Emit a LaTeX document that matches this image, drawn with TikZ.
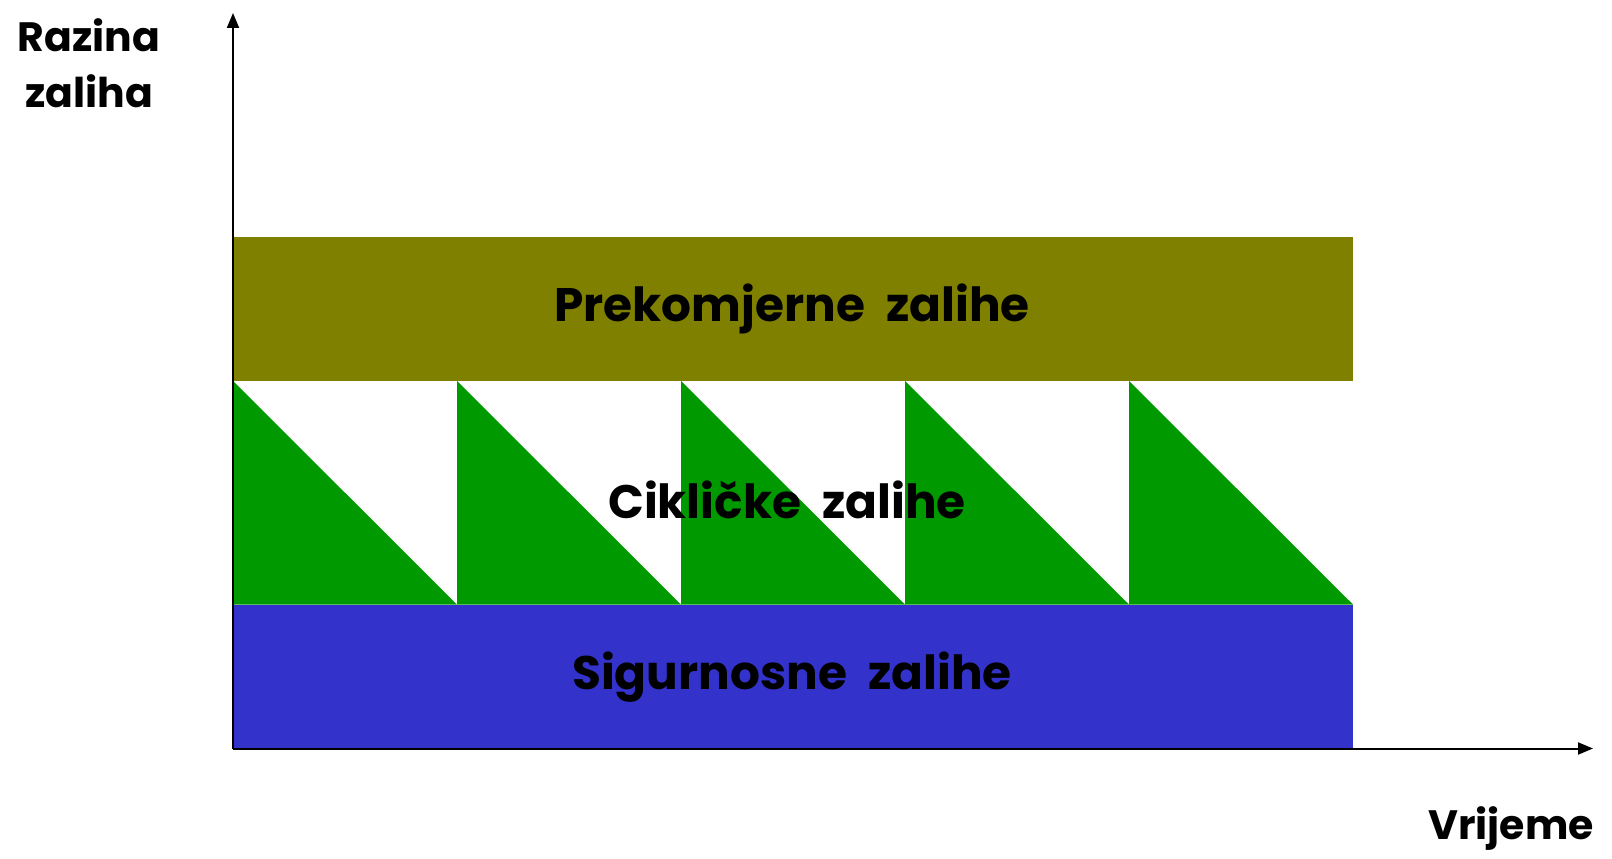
\documentclass[tikz,border=0pt]{standalone}
\usepackage{fontspec}
\setmainfont{Poppins}
\usetikzlibrary{arrows.meta}
\definecolor{excess}{HTML}{808000}
\definecolor{cycle}{HTML}{009900}
\definecolor{safety}{HTML}{3333CC}
\newcommand{\wgap}{\hspace{0.45em}}
\tikzset{
  axis/.style={line width=2pt,-{Triangle[length=15pt,width=12pt]}},
  bandlabel/.style={font=\fontsize{47}{50}\selectfont\bfseries,text=black,inner sep=0pt},
  axislabel/.style={font=\fontsize{41}{56}\selectfont\bfseries,text=black,inner sep=0pt,align=center},
}
\begin{document}
\begin{tikzpicture}[x=1pt,y=-1pt]
  \useasboundingbox (0,0) rectangle (1612,859);
  % key points of the chart
  \coordinate (O) at (233,748.5);
  \coordinate (ytip) at (233,13);
  \coordinate (xtip) at (1593,748.5);
  % stock bands
  \fill[excess] (233,237) rectangle (1353,381);
  \fill[safety] (233,604.5) rectangle (1353,748.5);
  % cycle stock sawtooth
  \foreach \i in {0,...,4}{
    \pgfmathsetmacro{\xa}{233+224*\i}
    \pgfmathsetmacro{\xb}{\xa+224}
    \fill[cycle] (\xa,381) -- (\xb,604.5) -- (\xa,604.5) -- cycle;
  }
  \node[bandlabel] (excessL) at (792,309) {Prekomjerne\wgap zalihe};
  \node[bandlabel] (cycleL) at (787,500) {Cikličke\wgap zalihe};
  \node[bandlabel] (safetyL) at (792,677) {Sigurnosne\wgap zalihe};
  % axes
  \draw[axis] (O) -- (ytip);
  \draw[axis] (O) -- (xtip);
  \node[axislabel] (ylab) at (89,63) {Razina\\zaliha};
  \node[axislabel] (xlab) at (1511,829) {Vrijeme};
\end{tikzpicture}
\end{document}
